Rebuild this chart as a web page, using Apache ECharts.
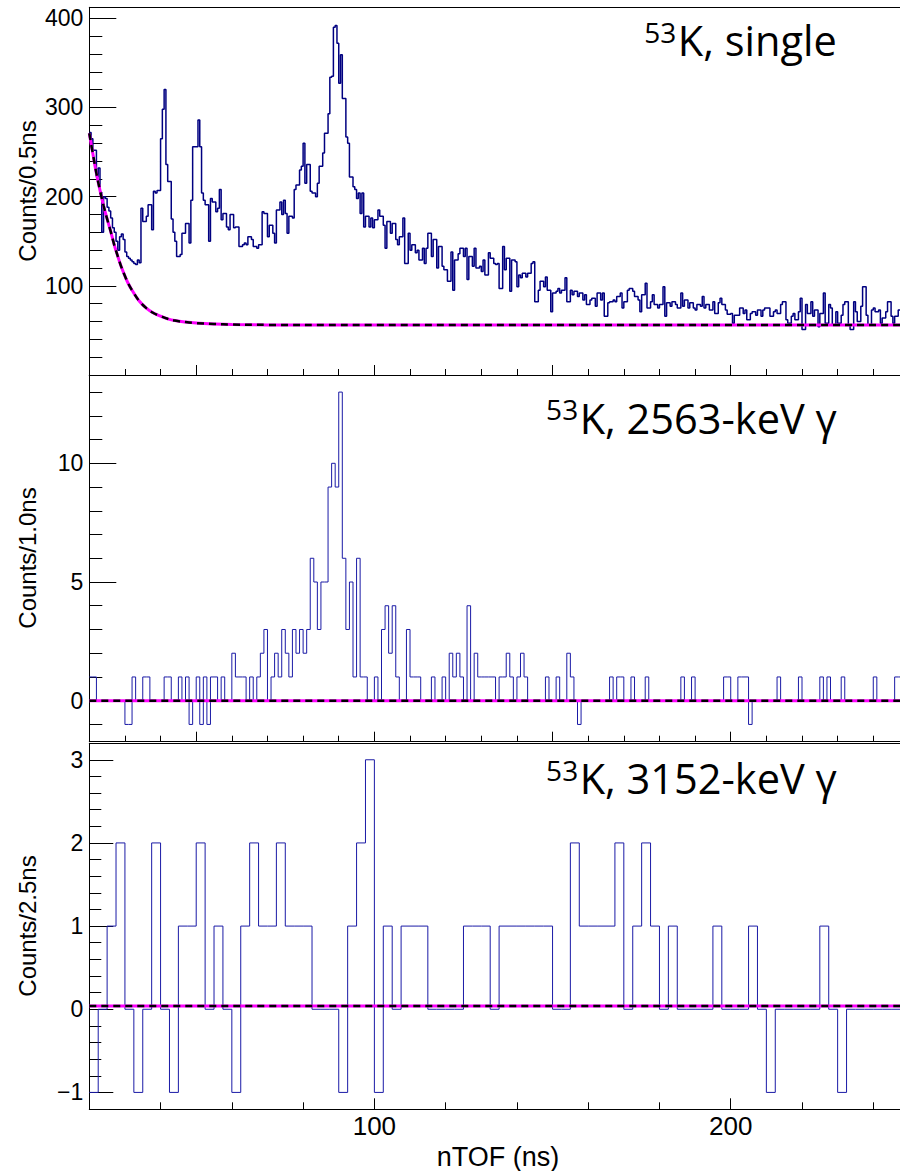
<!DOCTYPE html>
<html><head><meta charset="utf-8">
<script src="https://cdn.jsdelivr.net/npm/echarts@6/dist/echarts.min.js"></script>
<style>html,body{margin:0;padding:0;background:#fff}#c{width:900px;height:1171px}</style>
</head><body><div id="c"></div>
<script>
// ---------------- data ----------------
const xStart = 20;            // ns, first bin edge
const xEnd = 247.5;           // ns, right edge of view
const topBinWidth = 0.5;      // ns
const midBinWidth = 1.0;      // ns
const botBinWidth = 2.5;      // ns

// 53K singles, counts / 0.5 ns
const topCounts = [
272,265,252,252,222,232,205,160,200,198,
188,184,176,165,160,150,140,155,158,152,
138,133,131,129,127,125,124,129,126,187,
172,172,178,191,191,163,206,204,207,207,
265,298,320,236,217,217,175,160,150,133,
133,135,159,159,170,170,148,196,256,256,
256,286,256,204,196,191,191,150,198,194,
194,183,187,208,174,181,181,166,163,180,
180,165,166,166,144,144,146,148,146,155,
155,152,144,144,142,146,146,183,181,181,
155,168,168,159,148,185,185,194,180,196,
181,159,178,178,176,208,213,213,230,234,
260,215,236,236,206,204,204,200,215,234,
234,249,271,271,293,334,335,390,392,372,
327,359,310,310,267,260,222,222,211,208,
198,204,181,204,166,178,178,166,176,165,
174,174,185,178,178,168,142,172,172,159,
170,170,152,146,155,155,176,125,125,159,
140,146,146,137,140,129,129,142,125,142,
159,159,133,152,152,120,144,144,122,118,
118,105,105,
138,95,129,129,136,142,142,133,142,107,
133,133,122,142,120,120,122,116,129,112,
112,137,131,131,125,124,125,97,97,144,
118,131,131,94,129,129,127,99,112,109,
114,114,110,114,114,125,127,82,82,95,
105,105,99,110,95,95,71,92,92,94,
97,92,95,95,109,82,82,95,90,94,
94,88,92,92,84,90,79,79,84,86,
86,77,92,92,84,92,66,66,81,82,
82,84,82,88,88,92,75,82,82,95,
97,97,94,88,88,84,71,90,90,103,
75,75,82,90,79,79,75,79,79,99,
66,81,81,77,82,82,79,75,75,92,
77,84,84,75,81,81,75,73,79,79,
77,88,75,79,79,73,73,82,69,69,
81,86,79,79,73,68,68,69,58,67,
67,67,75,75,69,73,62,62,69,71,
71,67,73,73,66,73,75,75,75,66,
66,71,73,69,69,79,82,82,62,58,
58,66,69,62,62,71,86,51,51,79,
69,69,82,66,73,73,54,69,69,92,
58,58,79,75,56,56,71,58,58,67,
79,82,82,56,51,51,82,71,60,60,
77,99,99,67,56,56,73,75,71,71,
73,58,64,64,71,82,82,66,58,66,
66,73
];

// 53K gated on 2563-keV gamma, counts / 1.0 ns
const midCounts = [
1,1,0,0,0,0,0,0,0,0,
-1,-1,1,0,0,1,1,0,0,0,
0,1,1,0,0,1,0,1,-1,0,
1,-1,1,-1,1,1,0,1,0,0,
2,1,1,1,0,1,0,1,2,3,
0,1,2,1,3,2,1,3,2,3,
2,3,6,5,3,5,5,9,10,9,
13,6,3,5,1,6,1,1,0,0,
1,0,3,4,2,4,1,0,0,3,
1,1,1,0,0,0,1,0,0,1,
0,2,1,2,1,0,4,0,2,1,
1,1,1,1,0,1,1,2,1,0,
1,2,1,0,0,0,0,0,1,0,
0,1,0,0,2,1,0,-1,0,0,
0,0,0,0,0,0,1,0,1,1,
0,0,1,0,0,0,1,0,0,0,
0,0,0,0,0,0,1,0,0,1,
0,0,0,0,0,0,0,0,1,1,
0,0,1,1,1,-1,0,0,0,0,
0,0,0,1,0,0,0,0,0,1,
0,0,0,0,0,1,0,1,0,0,
0,1,0,0,0,0,0,0,0,0,
1,0,0,0,0,0,1,1
];

// 53K gated on 3152-keV gamma, counts / 2.5 ns
const botCounts = [
-1,0,1,2,0,-1,0,2,0,-1,
1,1,2,0,1,0,-1,1,2,1,
1,2,1,1,1,0,0,0,-1,1,
2,3,-1,1,0,1,1,1,0,0,
0,0,1,1,1,0,1,1,1,1,
1,1,0,0,2,1,1,1,1,2,
0,1,2,1,0,1,0,0,0,0,
1,0,0,0,1,0,-1,0,0,0,
0,0,1,0,-1,0,0,0,0,0,0
];

// fitted background curves
const topFitX = [20,21,22,23,24,25,26,27,28,29,30,31,32,34,36,38,40,42,44,47,50,55,60,70,90,247.5];
const topFitY = [271,248,226,207,190,175,161,146,133,121,111,102,95,83,75,69.5,66,63,61,59.3,58.2,57.2,56.6,56.2,56,56];
const midFitX = [20,247.5];
const midFitY = [0,0];
const botFitX = [20,247.5];
const botFitY = [0.04,0.04];

// axis ranges and ticks
const topYRange = [0, 412.3];
const midYRange = [-1.727, 13.72];
const botYRange = [-1.203, 3.198];
const topYMajor = [100,200,300,400];
const topYMinor = [20,40,60,80,120,140,160,180,220,240,260,280,320,340,360,380];
const midYMajor = [0,5,10];
const midYMinor = [-1,1,2,3,4,6,7,8,9,11,12,13];
const botYMajor = [-1,0,1,2,3];
const botYMinor = [-0.8,-0.6,-0.4,-0.2,0.2,0.4,0.6,0.8,1.2,1.4,1.6,1.8,2.2,2.4,2.6,2.8];
const xMajorFine = [50,100,150,200];
const xMinorFine = [30,40,60,70,80,90,110,120,130,140,160,170,180,190,210,220,230,240];
const xMajorCoarse = [100,200];
const xMinorCoarse = [40,60,80,120,140,160,180,220,240];
const xLabels = [100,200];

const yTitles = ['Counts/0.5ns','Counts/1.0ns','Counts/2.5ns'];
const xTitle = 'nTOF (ns)';
const panelSup = ['53','53','53'];
const panelText = ['K, single','K, 2563-keV γ','K, 3152-keV γ'];

// ---------------- build ----------------
function hist(start, w, vals){
  const d = vals.map((v,i)=>[start + i*w, v]);
  d.push([start + vals.length*w, vals[vals.length-1]]);
  return d;
}
function pairs(xs, ys){ return xs.map((x,i)=>[x, ys[i]]); }

const histColors = ['#000080', '#1a1aa6', '#1a1aa6'];
const histWidths = [1.5, 1, 1];
const axisColor = '#000';
const labelFont = 'Liberation Sans';

const grids = [
  {left: 89.3, right: 0, top: 7.3, height: 367.7},
  {left: 89.3, right: 0, top: 375, height: 366.7},
  {left: 89.3, right: 0, top: 743.3, height: 366}
];

const xAxes = [];
const yAxes = [];
const panelX = [
  {major: xMajorFine, minor: xMinorFine, majLen: 10, minLen: 6, labels: null},
  {major: xMajorFine, minor: xMinorFine, majLen: 10, minLen: 6, labels: null},
  {major: xMajorCoarse, minor: xMinorCoarse, majLen: 11, minLen: 7, labels: xLabels}
];
const panelY = [
  {range: topYRange, major: topYMajor, minor: topYMinor, majLen: 27, minLen: 13},
  {range: midYRange, major: midYMajor, minor: midYMinor, majLen: 27, minLen: 13},
  {range: botYRange, major: botYMajor, minor: botYMinor, majLen: 24, minLen: 12}
];

for (let g = 0; g < 3; g++) {
  const px = panelX[g];
  xAxes.push({
    gridIndex: g, type: 'value', min: xStart, max: xEnd, position: 'bottom',
    axisLine: {show: true, onZero: false, lineStyle: {color: axisColor, width: 1}},
    axisTick: {show: true, inside: true, length: px.majLen, customValues: px.major, lineStyle: {color: axisColor, width: 1}},
    axisLabel: px.labels ? {show: true, customValues: px.labels, color: '#000', fontFamily: labelFont, fontSize: 26, margin: 4} : {show: false},
    splitLine: {show: false}
  });
  xAxes.push({
    gridIndex: g, type: 'value', min: xStart, max: xEnd, position: 'bottom',
    axisLine: {show: false, onZero: false},
    axisTick: {show: true, inside: true, length: px.minLen, customValues: px.minor, lineStyle: {color: axisColor, width: 1}},
    axisLabel: {show: false}, splitLine: {show: false}
  });
  xAxes.push({
    gridIndex: g, type: 'value', min: xStart, max: xEnd, position: 'top',
    axisLine: {show: true, onZero: false, lineStyle: {color: axisColor, width: 1}},
    axisTick: {show: false}, axisLabel: {show: false}, splitLine: {show: false}
  });
  const py = panelY[g];
  yAxes.push({
    gridIndex: g, type: 'value', min: py.range[0], max: py.range[1], position: 'left',
    axisLine: {show: true, onZero: false, lineStyle: {color: axisColor, width: 1}},
    axisTick: {show: true, inside: true, length: py.majLen, customValues: py.major, lineStyle: {color: axisColor, width: 1}},
    axisLabel: {show: true, customValues: py.major, color: '#000', fontFamily: labelFont, fontSize: 23, margin: 6,
      formatter: v => (v < 0 ? '\u2212' + Math.abs(v) : String(v))},
    splitLine: {show: false}
  });
  yAxes.push({
    gridIndex: g, type: 'value', min: py.range[0], max: py.range[1], position: 'left',
    axisLine: {show: false, onZero: false},
    axisTick: {show: true, inside: true, length: py.minLen, customValues: py.minor, lineStyle: {color: axisColor, width: 1}},
    axisLabel: {show: false}, splitLine: {show: false}
  });
}

function histSeries(g, data){
  return {type: 'line', xAxisIndex: g*3, yAxisIndex: g*2, data: data, step: 'end',
    showSymbol: false, symbol: 'none', silent: true, animation: false, clip: true,
    lineStyle: {color: histColors[g], width: histWidths[g]}, z: 2};
}
function fitSeries(g, data, smooth){
  return [
    {type: 'line', xAxisIndex: g*3, yAxisIndex: g*2, data: data, smooth: smooth, symbol: 'none',
      silent: true, animation: false, clip: true, lineStyle: {color: '#ff00ff', width: 3}, z: 3},
    {type: 'line', xAxisIndex: g*3, yAxisIndex: g*2, data: data, smooth: smooth, symbol: 'none',
      silent: true, animation: false, clip: true, lineStyle: {color: '#000000', width: 2.5, type: [7, 5]}, z: 4}
  ];
}

const series = [
  histSeries(0, hist(xStart, topBinWidth, topCounts)),
  histSeries(1, hist(xStart, midBinWidth, midCounts)),
  histSeries(2, hist(xStart, botBinWidth, botCounts)),
  ...fitSeries(0, pairs(topFitX, topFitY), 0.4),
  ...fitSeries(1, pairs(midFitX, midFitY), false),
  ...fitSeries(2, pairs(botFitX, botFitY), false)
];

function txt(x, y, text, font, align, rot){
  return {type: 'text', x: x, y: y, rotation: rot || 0, silent: true, z: 10,
    style: {text: text, font: font, fill: '#000', align: align, verticalAlign: 'middle',
      textAlign: align, textVerticalAlign: 'middle'}};
}
const measureCtx = document.createElement('canvas').getContext('2d');
function textWidth(text, font){ measureCtx.font = font; return measureCtx.measureText(text).width; }

const titleFont = '41.5px "Open Sans"';
const supFont = '28px "Open Sans"';
const titleRight = 836.7;
const yTitleY = [191, 558, 926];
const supY = [32.4, 409.1, 770];
const mainY = [39.5, 417.8, 777.8];
const graphics = [];
for (let g = 0; g < 3; g++) {
  graphics.push(txt(27.5, yTitleY[g], yTitles[g], '24px "Liberation Sans"', 'center', Math.PI/2));
  const w = textWidth(panelText[g], titleFont);
  graphics.push(txt(titleRight - w - 1.5, supY[g], panelSup[g], supFont, 'right'));
  graphics.push(txt(titleRight, mainY[g], panelText[g], titleFont, 'right'));
}
graphics.push(txt(498, 1157.3, xTitle, '27px "Liberation Sans"', 'center'));

const chart = echarts.init(document.getElementById('c'), null, {renderer: 'svg'});
chart.setOption({
  backgroundColor: '#ffffff',
  animation: false,
  grid: grids,
  xAxis: xAxes,
  yAxis: yAxes,
  series: series,
  graphic: {elements: graphics}
});
</script>
</body></html>
